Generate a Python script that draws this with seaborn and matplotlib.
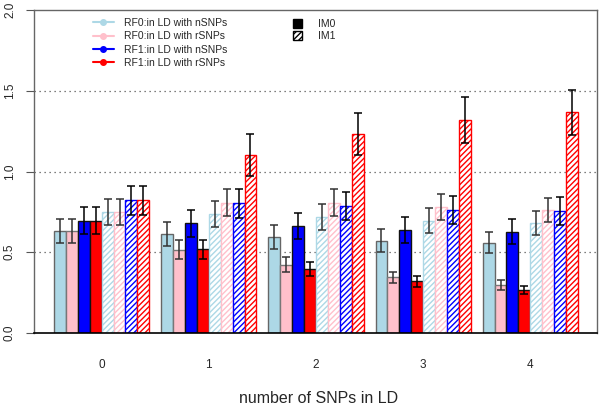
import numpy as np
import pandas as pd
import matplotlib
matplotlib.use("Agg")
import matplotlib.pyplot as plt
import seaborn as sns
from matplotlib.lines import Line2D
from matplotlib.patches import Patch

# ---- data ----
groups = ["0", "1", "2", "3", "4"]
series = ["RF0:in LD with nSNPs", "RF0:in LD with rSNPs",
          "RF1:in LD with nSNPs", "RF1:in LD with rSNPs"]
colors = ["#ADD8E6", "#FFC0CB", "#0000FF", "#FF0000"]
edges = ["#666666", "#777777", "#111111", "#111111"]

im0_rf0_n = [0.632, 0.615, 0.594, 0.572, 0.560]
im0_rf0_r = [0.632, 0.516, 0.424, 0.344, 0.298]
im0_rf1_n = [0.696, 0.679, 0.661, 0.638, 0.628]
im0_rf1_r = [0.696, 0.518, 0.395, 0.319, 0.267]
im1_rf0_n = [0.750, 0.736, 0.718, 0.696, 0.683]
im1_rf0_r = [0.750, 0.808, 0.807, 0.780, 0.764]
im1_rf1_n = [0.823, 0.802, 0.786, 0.764, 0.755]
im1_rf1_r = [0.823, 1.100, 1.233, 1.319, 1.366]

err_im0_rf0_n = [0.075, 0.074, 0.072, 0.070, 0.067]
err_im0_rf0_r = [0.075, 0.058, 0.045, 0.035, 0.029]
err_im0_rf1_n = [0.085, 0.082, 0.081, 0.078, 0.078]
err_im0_rf1_r = [0.085, 0.058, 0.043, 0.035, 0.025]
err_im1_rf0_n = [0.082, 0.080, 0.078, 0.076, 0.074]
err_im1_rf0_r = [0.082, 0.084, 0.085, 0.078, 0.075]
err_im1_rf1_n = [0.090, 0.089, 0.088, 0.087, 0.085]
err_im1_rf1_r = [0.090, 0.130, 0.130, 0.140, 0.138]

values = [im0_rf0_n, im0_rf0_r, im0_rf1_n, im0_rf1_r,
          im1_rf0_n, im1_rf0_r, im1_rf1_n, im1_rf1_r]
errors = [err_im0_rf0_n, err_im0_rf0_r, err_im0_rf1_n, err_im0_rf1_r,
          err_im1_rf0_n, err_im1_rf0_r, err_im1_rf1_n, err_im1_rf1_r]
bar_names = [f"IM0 {s}" for s in series] + [f"IM1 {s}" for s in series]

rows = []
for name, vals in zip(bar_names, values):
    for g, v in zip(groups, vals):
        rows.append({"group": g, "bar": name, "value": v})
df = pd.DataFrame(rows)

sns.set_style("white")
plt.rcParams["font.family"] = ["Liberation Sans", "DejaVu Sans"]
plt.rcParams["hatch.linewidth"] = 1.0

fig = plt.figure(figsize=(6.0, 4.05), dpi=100)
ax = fig.add_axes([34 / 600, 1 - 333 / 405, (597 - 34) / 600, (333 - 10) / 405])

# horizontal dotted guides
for yv in [0.5, 1.0, 1.5]:
    ax.axhline(yv, color="#555555", linestyle=(0, (1, 3)), linewidth=0.9, zorder=0)

palette = {n: c for n, c in zip(bar_names, colors * 2)}
sns.barplot(data=df, x="group", y="value", hue="bar", hue_order=bar_names,
            palette=palette, width=8 / 9, errorbar=None, saturation=1,
            legend=False, ax=ax, zorder=2)

bar_conts = list(ax.containers)
for i, cont in enumerate(bar_conts):
    k = i % 4
    hatched = i >= 4
    xs, ys = [], []
    for p in cont.patches:
        xs.append(p.get_x() + p.get_width() / 2)
        ys.append(p.get_height())
        if hatched:
            p.set_facecolor("white")
            p.set_hatch("//////")
            if hasattr(p, "set_hatchcolor"):
                p.set_hatchcolor(colors[k])
                p.set_edgecolor(edges[k])
            else:
                p.set_edgecolor(colors[k])
        else:
            p.set_edgecolor(edges[k])
        p.set_linewidth(1.0)
    ecol = "#333333" if k < 2 else "black"
    ax.errorbar(xs, ys, yerr=errors[i], fmt="none", ecolor=ecol,
                elinewidth=1.1, capsize=2.6, capthick=1.1, zorder=3)

ax.set_xlim(-4 / 9 - 0.187, 4 + 4 / 9 + 0.178)
ax.set_ylim(0, 2.0)
ax.set_yticks([0.0, 0.5, 1.0, 1.5, 2.0])
ax.set_yticklabels(["0.0", "0.5", "1.0", "1.5", "2.0"], rotation=90,
                   va="center", fontsize=8.5)
ax.tick_params(axis="y", length=6, width=0.8, color="#555555", pad=7, left=True)
ax.tick_params(axis="x", length=0, pad=19, labelsize=8.5)
ax.set_xlabel("number of SNPs in LD", fontsize=11.5)
ax.xaxis.set_label_coords(0.505, -0.18)
ax.set_ylabel("")

for side in ["left", "top", "right"]:
    ax.spines[side].set_color("#666666")
    ax.spines[side].set_linewidth(1.0)
ax.spines["bottom"].set_color("black")
ax.spines["bottom"].set_linewidth(1.2)

# legends
h1 = [Line2D([0], [0], color=c, marker="o", markersize=4, linewidth=1.5)
      for c in colors]
leg1 = fig.legend(h1, series, loc="upper left", bbox_to_anchor=(93 / 600, 1 - 18 / 405),
                  frameon=False, fontsize=7.5, handlelength=2.0, labelspacing=0.32,
                  borderpad=0, borderaxespad=0, handletextpad=1.0)
h2 = [Patch(facecolor="black", edgecolor="black"),
      Patch(facecolor="white", edgecolor="black", hatch="//////")]
leg2 = fig.legend(h2, ["IM0", "IM1"], loc="upper left",
                  bbox_to_anchor=(293 / 600, 1 - 19 / 405),
                  frameon=False, fontsize=7.5, handlelength=0.9, handleheight=0.9,
                  labelspacing=0.2, borderpad=0, borderaxespad=0, handletextpad=1.5)

fig.savefig("out.png", dpi=100)
